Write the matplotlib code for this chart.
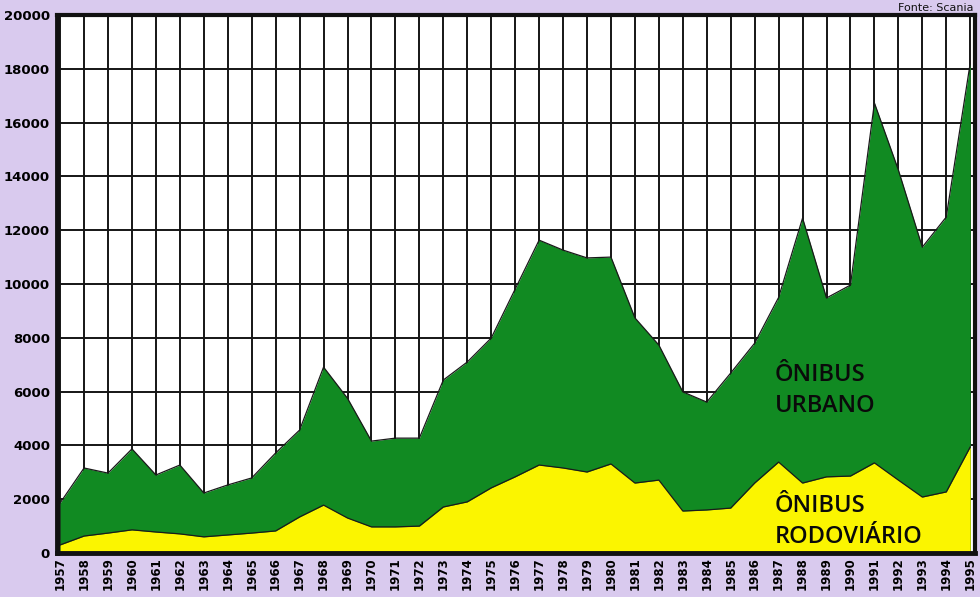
import numpy as np
import matplotlib.pyplot as plt

# Vendas anuais de ônibus (unidades)
anos = list(range(1957, 1996))
total = [1860, 3160, 2970, 3870, 2900, 3270, 2230, 2530, 2790, 3720,
         4570, 6910, 5750, 4160, 4270, 4270, 6430, 7100, 7990, 9810,
         11630, 11260, 10970, 11000, 8740, 7730, 5990, 5610, 6690, 7800,
         9500, 12450, 9480, 9960, 16730, 14240, 11370, 12490, 18210]
rodoviario = [300, 630, 740, 860, 780, 710, 600, 670, 740, 820,
              1340, 1780, 1300, 970, 970, 1000, 1710, 1900, 2420, 2830,
              3270, 3160, 3010, 3310, 2600, 2710, 1560, 1600, 1670, 2600,
              3380, 2600, 2830, 2860, 3350, 2710, 2080, 2270, 3940]
yticks = list(range(0, 20001, 2000))

bg = '#d9caee'
verde = '#118a22'
amarelo = '#fbf500'

fig = plt.figure(figsize=(9.8, 5.97), dpi=100, facecolor=bg)
ax = fig.add_axes([57 / 980, 1 - 553 / 597, 918 / 980, 538 / 597])
ax.set_facecolor('white')

ax.fill_between(anos, 0, total, color=verde, zorder=3, linewidth=0)
ax.plot(anos, total, color='#1a1a1a', linewidth=0.9, zorder=4)
ax.fill_between(anos, 0, rodoviario, color=amarelo, zorder=5, linewidth=0)
ax.plot(anos, rodoviario, color='#1a1a1a', linewidth=0.9, zorder=6)

ax.set_xlim(1956.87, 1995.2)
ax.set_ylim(0, 20000)
ax.set_xticks(anos)
ax.set_xticklabels([str(a) for a in anos], rotation=90, fontsize=8.5,
                   fontweight='bold')
ax.set_yticks(yticks)
ax.set_yticklabels([str(v) for v in yticks], fontsize=9.5, fontweight='bold')
ax.tick_params(axis='both', length=0, pad=3)
ax.tick_params(axis='y', pad=5)

ax.grid(True, color='#151515', linewidth=1.4, zorder=1)
ax.set_axisbelow(True)
for lado, spine in ax.spines.items():
    spine.set_linewidth(3.5 if lado in ('left', 'bottom') else 3)
    spine.set_color('#111111')
    spine.set_zorder(10)

rotulo = dict(fontsize=17, color='#0a0a0a', ha='left', va='center',
              linespacing=1.4, zorder=8, family='Open Sans',
              fontweight='semibold')
ax.text(1986.85, 6050, 'ÔNIBUS\nURBANO', **rotulo)
ax.text(1986.85, 1170, 'ÔNIBUS\nRODOVIÁRIO', **rotulo)

fig.text(973 / 980, 1 - 8 / 597, 'Fonte: Scania', fontsize=8,
         ha='right', va='center', color='#111111')

fig.savefig('out.png', dpi=100, facecolor=bg)
